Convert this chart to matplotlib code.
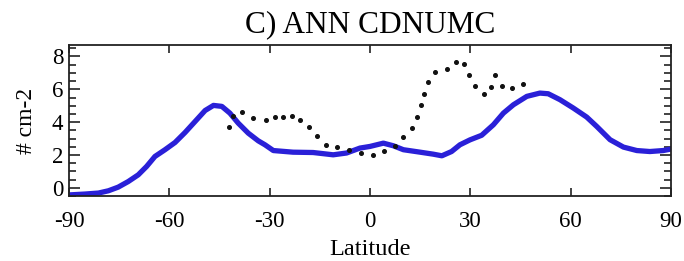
import numpy as np
import matplotlib.pyplot as plt
from matplotlib.ticker import MultipleLocator

# model zonal mean (blue line)
lat_model = [-89.7, -85.2, -81.2, -78.2, -75.3, -72.3, -69.3, -66.8, -64.3, -61.3,
             -58.3, -55.3, -52.3, -49.3, -46.8, -44.3, -41.9, -39.4, -36.4, -33.4,
             -31.4, -28.9, -23.0, -17.0, -11.0, -7.0, -3.0, 0.0, 4.0, 7.0,
             10.0, 15.0, 18.9, 21.5, 24.4, 26.9, 29.9, 33.4, 36.9, 39.9,
             42.9, 46.9, 50.8, 53.3, 56.8, 60.8, 64.8, 67.8, 71.8, 75.8,
             79.8, 83.7, 87.7, 90.0]
cdnumc_model = [-0.43, -0.38, -0.32, -0.18, 0.04, 0.38, 0.79, 1.30, 1.91, 2.32,
                2.76, 3.37, 4.04, 4.71, 5.02, 4.96, 4.55, 3.94, 3.33, 2.86,
                2.62, 2.27, 2.17, 2.15, 2.01, 2.12, 2.42, 2.52, 2.72, 2.56,
                2.32, 2.17, 2.05, 1.95, 2.21, 2.62, 2.92, 3.2, 3.84, 4.55,
                5.06, 5.57, 5.77, 5.73, 5.37, 4.86, 4.31, 3.74, 2.93, 2.48,
                2.27, 2.21, 2.27, 2.36]

# observations (dots)
lat_obs = [-42.1, -40.9, -38.2, -34.9, -31.2, -28.4, -25.9, -23.4, -20.9, -18.2,
           -15.7, -13.1, -9.9, -6.2, -2.7, 0.8, 4.3, 7.5, 10.0, 12.7,
           14.0, 15.2, 16.2, 17.5, 19.5, 22.9, 25.7, 28.1, 29.7, 31.5,
           34.0, 36.1, 37.5, 39.6, 42.6, 45.7]
cdnumc_obs = [3.70, 4.39, 4.59, 4.25, 4.15, 4.31, 4.29, 4.39, 4.15, 3.68,
              3.13, 2.62, 2.48, 2.32, 2.12, 2.01, 2.26, 2.56, 3.09, 3.64,
              4.31, 5.02, 5.73, 6.44, 7.05, 7.24, 7.68, 7.52, 6.86, 6.20,
              5.72, 6.12, 6.88, 6.22, 6.08, 6.34]

plt.rcParams['font.family'] = 'Liberation Serif'
plt.rcParams['axes.unicode_minus'] = False

fig = plt.figure(figsize=(6.84, 2.61), dpi=100)
ax = fig.add_axes([0.1009, 0.249, 0.880, 0.5786])

ax.plot(lat_model, cdnumc_model, color='#2a20d8', lw=3.8,
        solid_capstyle='round', solid_joinstyle='round')
ax.plot(lat_obs, cdnumc_obs, ls='none', marker='o', ms=2.6, color='#111111')

ax.set_xlim(-90, 90)
ax.set_ylim(-0.5, 8.7)
ax.set_xticks([-90, -60, -30, 0, 30, 60, 90])
ax.set_yticks([0, 2, 4, 6, 8])
ax.yaxis.set_minor_locator(MultipleLocator(0.5))

ax.tick_params(axis='both', which='both', direction='in', top=True, right=True,
               labelsize=16.5, width=1.2, color='#222222')
ax.tick_params(axis='x', which='major', length=6, pad=11)
ax.tick_params(axis='y', which='major', length=8, pad=4)
ax.tick_params(axis='y', which='minor', length=5)

for s in ax.spines.values():
    s.set_linewidth(1.3)
    s.set_color('#222222')

ax.set_title('C) ANN CDNUMC', fontsize=22.5, pad=9)
ax.set_xlabel('Latitude', fontsize=17.5, labelpad=5)
ax.set_ylabel('# cm-2', fontsize=17, labelpad=11)

fig.savefig('out.png', dpi=100)
